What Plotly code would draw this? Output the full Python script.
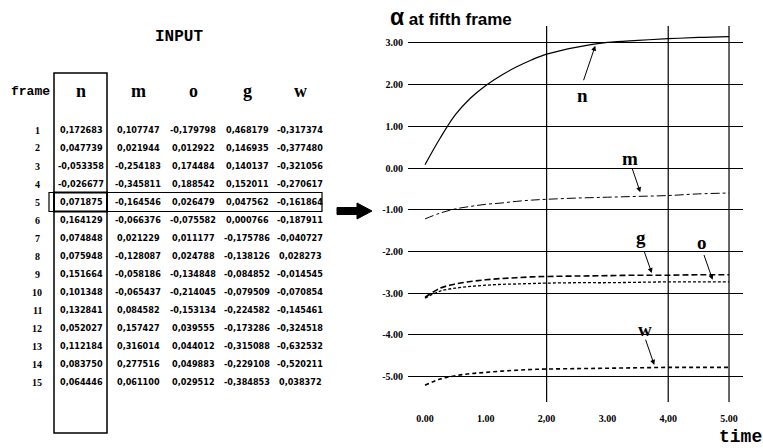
import plotly.graph_objects as go

# ---------------- data ----------------
frames = list(range(1, 16))
columns = ["n", "m", "o", "g", "w"]
input_n = [0.172683, 0.047739, -0.053358, -0.026677, 0.071875, 0.164129, 0.074848, 0.075948,
           0.151664, 0.101348, 0.132841, 0.052027, 0.112184, 0.083750, 0.064446]
input_m = [0.107747, 0.021944, -0.254183, -0.345811, -0.164546, -0.066376, 0.021229, -0.128087,
           -0.058186, -0.065437, 0.084582, 0.157427, 0.316014, 0.277516, 0.061100]
input_o = [-0.179798, 0.012922, 0.174484, 0.188542, 0.026479, -0.075582, 0.011177, 0.024788,
           -0.134848, -0.214045, -0.153134, 0.039555, 0.044012, 0.049883, 0.029512]
input_g = [0.468179, 0.146935, 0.140137, 0.152011, 0.047562, 0.000766, -0.175786, -0.138126,
           -0.084852, -0.079509, -0.224582, -0.173286, -0.315088, -0.229108, -0.384853]
input_w = [-0.317374, -0.377480, -0.321056, -0.270617, -0.161864, -0.187911, -0.040727, 0.028273,
           -0.014545, -0.070854, -0.145461, -0.324518, -0.632532, -0.520211, 0.038372]
highlight_frame = 5

time = [0, 0.25, 0.5, 0.75, 1, 1.25, 1.5, 1.75, 2, 2.5, 3, 3.5, 4, 4.5, 5]
alpha_n = [0.08, 0.72, 1.28, 1.68, 1.98, 2.22, 2.42, 2.59, 2.73, 2.9, 3.01, 3.06, 3.1, 3.13, 3.15]
alpha_m = [-1.22, -1.08, -0.98, -0.92, -0.87, -0.84, -0.8, -0.77, -0.75, -0.72, -0.7, -0.68, -0.66, -0.62, -0.6]
alpha_g = [-3.1, -2.88, -2.78, -2.72, -2.68, -2.65, -2.63, -2.61, -2.6, -2.59, -2.58, -2.57, -2.57, -2.56, -2.56]
alpha_o = [-3.12, -2.95, -2.88, -2.84, -2.81, -2.79, -2.78, -2.77, -2.76, -2.75, -2.75, -2.74, -2.73, -2.73, -2.73]
alpha_w = [-5.21, -5.06, -4.98, -4.93, -4.9, -4.87, -4.85, -4.83, -4.82, -4.81, -4.8, -4.79, -4.78, -4.78, -4.78]

y_ticks = [3, 2, 1, 0, -1, -2, -3, -4, -5]
y_ticktext = ["3.00", "2.00", "1.00", "0.00", "-1.00", "-2.00", "-3.00", "-4.00", "-5.00"]
x_ticks = [0, 1, 2, 3, 4, 5]
x_ticktext = ["0.00", "1.00", "2,00", "3.00", "4,00", "5.00"]
grid_times = [2, 4, 5]

# ---------------- layout helpers ----------------
W, H = 763, 448
def px(x):
    return x / W
def py(y):
    return 1 - y / H

BLACK = "#000000"
MONO = "Liberation Mono, Courier New, monospace"
COND = "DejaVu Sans Condensed, DejaVu Sans"
SERIF = "Liberation Serif, Times New Roman, serif"
SANS = "Liberation Sans, Arial, Helvetica, sans-serif"

fig = go.Figure()

series = [
    ("n", alpha_n, dict(color=BLACK, width=1.2, dash="solid")),
    ("m", alpha_m, dict(color=BLACK, width=1.0, dash="dashdot")),
    ("g", alpha_g, dict(color=BLACK, width=1.6, dash="6px,3px")),
    ("o", alpha_o, dict(color=BLACK, width=1.3, dash="3px,2px")),
    ("w", alpha_w, dict(color=BLACK, width=1.6, dash="4px,3px")),
]
for name, vals, line in series:
    fig.add_trace(go.Scatter(x=time, y=vals, mode="lines", name=name,
                             line=dict(shape="spline", smoothing=1.0, **line),
                             showlegend=False, hoverinfo="skip"))

annotations = []
def paper_text(text, x, y, font, xanchor="center"):
    annotations.append(dict(text=text, x=px(x), y=py(y), xref="paper", yref="paper",
                            xanchor=xanchor, yanchor="middle", showarrow=False, font=font))

# ---------------- table (left) ----------------
paper_text("<b>INPUT</b>", 179, 37, dict(family=MONO, size=16, color=BLACK))
paper_text("<b>frame</b>", 30, 92, dict(family=MONO, size=13, color=BLACK))
col_x = [81, 138, 193, 247, 300]
col_vals = [input_n, input_m, input_o, input_g, input_w]
for cname, cx in zip(columns, col_x):
    paper_text(f"<b>{cname}</b>", cx, 91, dict(family=SERIF, size=18, color=BLACK))
row_y0, row_dy = 130, 18.0
for i, fr in enumerate(frames):
    yy = row_y0 + i * row_dy
    paper_text(f"<b>{fr}</b>", 37, yy, dict(family=SERIF, size=10, color=BLACK))
    for cx, vals in zip(col_x, col_vals):
        s = f"{vals[i]:.6f}".replace(".", ",")
        paper_text(f"<span style='font-stretch:condensed'>{s}</span>", cx, yy,
                   dict(family=COND, size=9, color=BLACK, weight="bold"))

shapes = []
# box around column n
shapes.append(dict(type="rect", xref="paper", yref="paper", x0=px(54), x1=px(107), y0=py(433), y1=py(73),
                   line=dict(color=BLACK, width=1.5)))
# box around highlighted frame row
hy = row_y0 + (highlight_frame - 1) * row_dy
shapes.append(dict(type="rect", xref="paper", yref="paper", x0=px(49), x1=px(322), y0=py(hy + 9.5), y1=py(hy - 9.5),
                   line=dict(color=BLACK, width=1.2)))
shapes.append(dict(type="rect", xref="paper", yref="paper", x0=px(54), x1=px(107), y0=py(hy + 9.5), y1=py(hy - 9.5),
                   line=dict(color=BLACK, width=2)))
# big arrow
pts = [(337, 207.5), (357, 207.5), (357, 203), (372, 211), (357, 219), (357, 214.5), (337, 214.5)]
path = "M " + " L ".join(f"{px(a):.5f},{py(b):.5f}" for a, b in pts) + " Z"
shapes.append(dict(type="path", xref="paper", yref="paper", path=path, fillcolor=BLACK,
                   line=dict(color=BLACK, width=1)))
# vertical grid lines at selected times
for gt in grid_times:
    shapes.append(dict(type="line", xref="x", yref="y domain", x0=gt, x1=gt, y0=0, y1=1,
                       line=dict(color=BLACK, width=1.2), layer="below"))

# ---------------- chart labels ----------------
paper_text("<span style='font-size:23px'>α</span> at fifth frame", 388, 17,
           dict(family=SANS, size=17, color=BLACK, weight="bold"), xanchor="left")
paper_text("<b>time</b>", 740, 437, dict(family=MONO, size=18, color=BLACK))

labels = [
    ("n", (2.59, 1.75), (2.60, 2.07), (2.80, 2.93)),
    ("m", (3.37, 0.24), (3.40, 0.02), (3.54, -0.58)),
    ("g", (3.56, -1.67), (3.60, -1.98), (3.73, -2.52)),
    ("o", (4.55, -1.78), (4.58, -2.05), (4.73, -2.68)),
    ("w", (3.62, -3.87), (3.62, -4.08), (3.77, -4.72)),
]
for txt, (tx, ty), (ax_, ay_), (hx, hy_) in labels:
    annotations.append(dict(text=f"<b>{txt}</b>", x=tx, y=ty, xref="x", yref="y", showarrow=False,
                            font=dict(family=SERIF, size=19, color=BLACK)))
    annotations.append(dict(text="", x=hx, y=hy_, ax=ax_, ay=ay_, xref="x", yref="y",
                            axref="x", ayref="y", showarrow=True, arrowhead=2, arrowsize=1,
                            arrowwidth=1, arrowcolor=BLACK))

fig.update_layout(
    width=W, height=H,
    margin=dict(l=0, r=0, t=0, b=0),
    paper_bgcolor="white", plot_bgcolor="white",
    annotations=annotations, shapes=shapes,
    xaxis=dict(domain=[px(408), px(743)], range=[-0.28, 5.23], showgrid=False, zeroline=False,
               showline=False, tickvals=x_ticks, ticktext=x_ticktext, ticks="",
               ticklabelstandoff=9,
               tickfont=dict(family=SERIF, size=10, color=BLACK, weight="bold")),
    yaxis=dict(domain=[py(402), py(26)], range=[-5.61, 3.405], showgrid=True, gridcolor=BLACK,
               gridwidth=1.2, zeroline=False, showline=False, tickvals=y_ticks, ticktext=y_ticktext,
               ticks="", ticklabelstandoff=4,
               tickfont=dict(family=SERIF, size=10, color=BLACK, weight="bold")),
)

fig.write_html("out.html", config={"displayModeBar": False},
               post_script="document.body.style.margin='0';")
